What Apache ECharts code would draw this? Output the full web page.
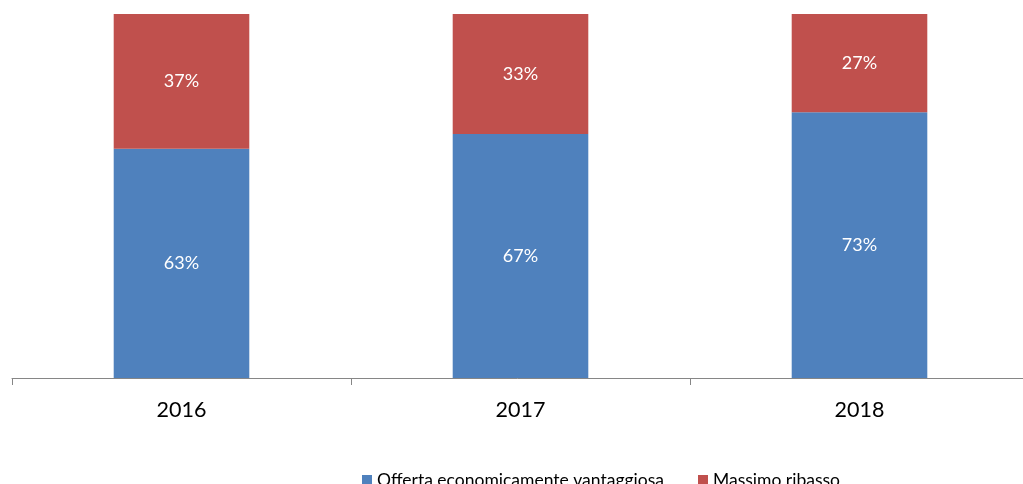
<!DOCTYPE html>
<html><head><meta charset="utf-8">
<script src="https://cdn.jsdelivr.net/npm/echarts@6/dist/echarts.min.js"></script>
<style>html,body{margin:0;padding:0;background:#fff}#c{width:1023px;height:484px}</style>
</head><body><div id="c"></div>
<script>
const categories = ['2016', '2017', '2018'];
const offertaValues = [63, 67, 73];
const ribassoValues = [37, 33, 27];
const seriesNames = ['Offerta economicamente vantaggiosa', 'Massimo ribasso'];

const FONT = 'Lato, "Open Sans", sans-serif';
const chart = echarts.init(document.getElementById('c'));
const lbl = {show: true, position: 'inside', color: '#ffffff', fontSize: 18, fontFamily: FONT, formatter: p => p.value + '%'};
chart.setOption({
  animation: false,
  grid: {left: 12, width: 1017, top: 14, bottom: 106, outerBoundsMode: 'none'},
  legend: {
    data: seriesNames, left: 357, top: 466, itemWidth: 10, itemHeight: 10, itemGap: 34,
    icon: 'rect', textStyle: {fontSize: 17.5, fontFamily: FONT, color: '#000'}
  },
  xAxis: {
    type: 'category', data: categories,
    axisLine: {show: true, lineStyle: {color: '#868686', width: 1}},
    axisTick: {show: true, length: 7, interval: 0, lineStyle: {color: '#868686', width: 1}},
    axisLabel: {fontSize: 21.5, fontFamily: FONT, color: '#000', margin: 21}
  },
  yAxis: {type: 'value', min: 0, max: 100, show: false, splitLine: {show: false}},
  series: [
    {name: seriesNames[0], type: 'bar', stack: 's', data: offertaValues, barWidth: '40%', itemStyle: {color: '#4F81BD'}, label: lbl},
    {name: seriesNames[1], type: 'bar', stack: 's', data: ribassoValues, barWidth: '40%', itemStyle: {color: '#C0504D'}, label: lbl}
  ]
});
</script></body></html>
